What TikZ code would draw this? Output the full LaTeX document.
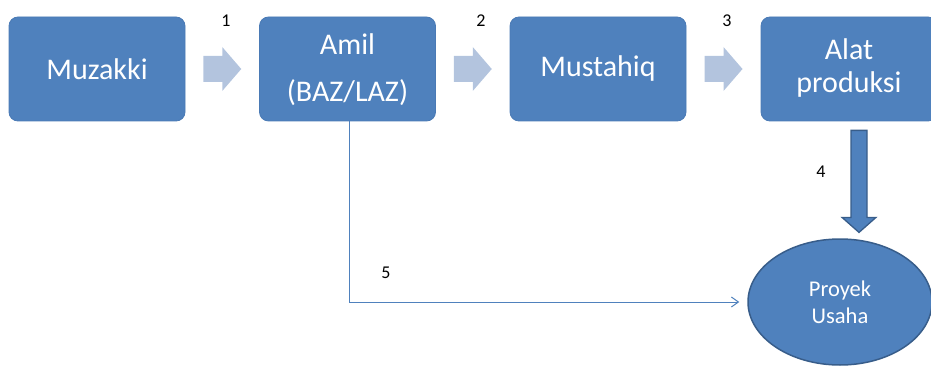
\documentclass[tikz,border=0pt]{standalone}
\usepackage{fontspec}
\setmainfont{Carlito}
\usetikzlibrary{arrows.meta,calc,shapes.geometric}

\definecolor{boxblue}{HTML}{4F81BD}
\definecolor{boxline}{HTML}{4A7AB5}
\definecolor{darkline}{HTML}{385D8A}
\definecolor{chevfill}{HTML}{B3C4DE}

\tikzset{
  stage/.style={rectangle, rounded corners=9pt, fill=boxblue, draw=boxline, line width=0.8pt,
    minimum width=176pt, minimum height=104pt, inner sep=0pt, text=white, align=center,
    font=\fontsize{30}{33}\selectfont},
  project/.style={ellipse, fill=boxblue, draw=darkline, line width=1.5pt,
    minimum width=184pt, minimum height=126pt, inner sep=0pt, text=white, align=center,
    font=\fontsize{22.5}{27}\selectfont},
  stepno/.style={inner sep=0pt, font=\fontsize{18}{18}\selectfont},
  chevron/.pic={
    \fill[chevfill] (-19,-13) -- (0,-13) -- (0,-22) -- (19,0) -- (0,22) -- (0,13) -- (-19,13) -- cycle;
  },
  downarrow/.pic={
    \filldraw[fill=boxblue, draw=darkline, line width=1.3pt]
      (-8,0) -- (8,0) -- (8,87) -- (17,87) -- (0,102) -- (-17,87) -- (-8,87) -- cycle;
  },
  link/.style={draw=boxblue, line width=1pt, -{Straight Barb[length=7pt,width=10pt]}}
}

\begin{document}
\begin{tikzpicture}[x=1pt, y=-1pt]
  \useasboundingbox (0,0) rectangle (931,366);

  % the four stages of the flow
  \node[stage] (muz)  at (97,69)    {\raisebox{-1pt}{Muzakki}};
  \node[stage, font=\fontsize{30}{47}\selectfont] (amil) at (347.5,69)
    {\raisebox{-3pt}{\begin{tabular}{@{}c@{}}Amil\\(BAZ/LAZ)\end{tabular}}};
  \node[stage] (mus)  at (598,69)   {\raisebox{-1pt}{Mustahiq}};
  \node[stage] (alat) at (849,69)
    {\raisebox{-1.5pt}{\begin{tabular}{@{}c@{}}Alat\\produksi\end{tabular}}};

  % business project
  \node[project] (proj) at (840,302) {Proyek\\Usaha};

  % chevrons between the stages
  \coordinate (c1) at ($(muz.east)!0.5!(amil.west)$);
  \coordinate (c2) at ($(amil.east)!0.5!(mus.west)$);
  \coordinate (c3) at ($(mus.east)!0.5!(alat.west)$);
  \pic at (c1) {chevron};
  \pic at (c2) {chevron};
  \pic at (c3) {chevron};

  % thick arrow from the tools down to the project
  \coordinate (d4) at ($(alat.south)+(10,9)$);
  \pic at (d4) {downarrow};

  % direct line from the amil to the project
  \draw[link, shorten >=8pt] (amil.south) ++(1.5,0) coordinate (a5) |- (proj.west);

  % step numbers
  \node[stepno] (n1) at (226,21) {1};
  \node[stepno] (n2) at (481,21) {2};
  \node[stepno] (n3) at (727,21) {3};
  \node[stepno] (n4) at (821,172) {4};
  \node[stepno] (n5) at (386,273) {5};
\end{tikzpicture}
\end{document}
